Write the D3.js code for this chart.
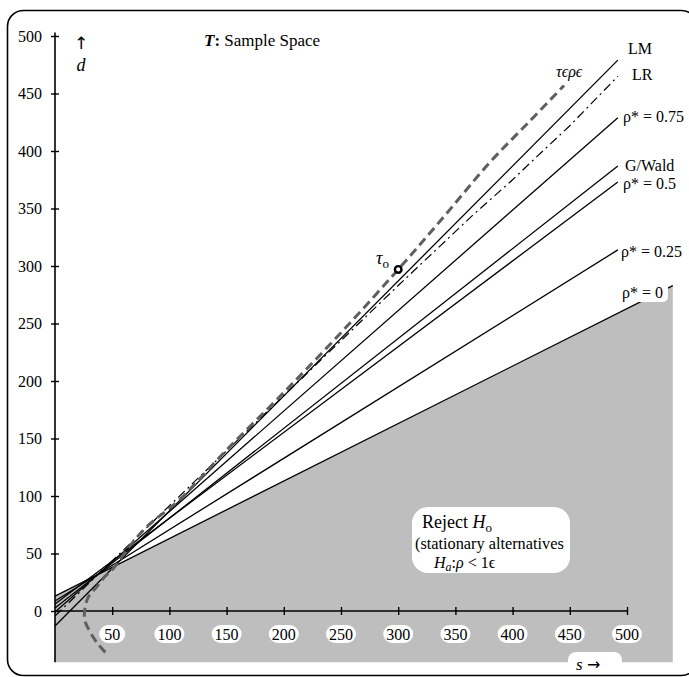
<!DOCTYPE html>
<html>
<head>
<meta charset="utf-8">
<script src="https://cdn.jsdelivr.net/npm/d3@7/dist/d3.min.js"></script>
<style>
  body { margin: 0; background: #fff; }
  svg text { font-family: "Liberation Serif", "Times New Roman", serif; fill: #000; }
  svg text.arrow { font-family: "DejaVu Sans", sans-serif; }
</style>
</head>
<body>
<svg id="chart" width="689" height="677"></svg>
<script>
// tick values
const sTicks = [50, 100, 150, 200, 250, 300, 350, 400, 450, 500]
const dTicks = [0, 50, 100, 150, 200, 250, 300, 350, 400, 450, 500]

// critical lines (s, d)
const lmLine = [[0, -13], [492, 479]]
const lrLine = [[0, -4.3], [300, 283], [365, 344], [400, 375], [420, 394], [450, 422], [492, 465]]
const rho75Line = [[0, -0.9], [492, 429]]
const gWaldLine = [[0, 2.6], [492, 387]]
const rho50Line = [[0, 6.1], [492, 373]]
const rho25Line = [[0, 8.7], [492, 314]]
const rho0Line = [[0, 13], [540, 283]]

// observed test statistic path and point
const taurhoPath = [[44, -36], [37, -28], [30.6, -18], [26, -8], [26, 1], [29, 12], [36.5, 21], [43.7, 30], [51, 37], [65, 56], [80, 73], [109, 97], [150, 140], [200, 190], [250, 242], [300, 297], [340, 343], [380, 390], [415, 426], [445, 457]]
const tauPoint = [300, 297]

const lineLabels = [
  { name: "LM", x: 628, y: 54 },
  { name: "LR", x: 632, y: 80 },
  { name: "ρ* = 0.75", x: 623, y: 122 },
  { name: "G/Wald", x: 625, y: 171 },
  { name: "ρ* = 0.5", x: 623, y: 189 },
  { name: "ρ* = 0.25", x: 621, y: 257 }
]

const svg = d3.select("#chart")

const x = d3.scaleLinear().domain([0, 500]).range([55, 627])
const y = d3.scaleLinear().domain([0, 500]).range([611, 36])

const line = d3.line().x(d => x(d[0])).y(d => y(d[1]))

// outer frame
svg.append("rect")
  .attr("x", 7.5).attr("y", 10.5)
  .attr("width", 690).attr("height", 665)
  .attr("rx", 16)
  .attr("fill", "none")
  .attr("stroke", "#000")
  .attr("stroke-width", 1.6)

// rejection region (below rho* = 0)
const yBottom = -44.5
const region = [[0, yBottom], rho0Line[0], rho0Line[1], [rho0Line[1][0], yBottom]]
svg.append("path")
  .attr("d", line(region) + "Z")
  .attr("fill", "#bebebe")

// axes
svg.append("line")
  .attr("x1", x(0)).attr("x2", x(0))
  .attr("y1", y(503)).attr("y2", y(yBottom))
  .attr("stroke", "#000").attr("stroke-width", 1.6)

svg.append("line")
  .attr("x1", x(0)).attr("x2", x(500))
  .attr("y1", y(0)).attr("y2", y(0))
  .attr("stroke", "#000").attr("stroke-width", 1.6)

const yAxis = svg.append("g")
  .attr("transform", "translate(" + x(0) + ",0)")
  .call(d3.axisLeft(y).tickValues(dTicks).tickSize(4).tickPadding(9))
yAxis.select(".domain").remove()
yAxis.selectAll(".tick line").attr("x1", -4).attr("x2", 4).attr("stroke-width", 1.4)
yAxis.selectAll(".tick text")
  .style("font-family", "Liberation Serif")
  .style("font-size", "16px")

const xAxis = svg.append("g")
  .attr("transform", "translate(0," + y(0) + ")")
  .call(d3.axisBottom(x).tickValues(sTicks).tickSize(4).tickFormat(""))
xAxis.select(".domain").remove()
xAxis.selectAll(".tick line").attr("y1", -4).attr("y2", 4).attr("stroke-width", 1.4)

// tick labels on white pills
const pills = svg.append("g").selectAll("g")
  .data(sTicks)
  .enter()
  .append("g")
  .attr("transform", d => "translate(" + x(d) + "," + (y(0) + 23) + ")")
pills.append("rect")
  .attr("x", d => d < 100 ? -13 : -15)
  .attr("y", -9)
  .attr("width", d => d < 100 ? 26 : 30)
  .attr("height", 18)
  .attr("rx", 9)
  .attr("fill", "#fff")
pills.append("text")
  .attr("text-anchor", "middle")
  .attr("y", 5.5)
  .style("font-size", "16px")
  .text(d => d)

// critical value lines
const solidLines = [lmLine, rho75Line, gWaldLine, rho50Line, rho25Line, rho0Line]
svg.append("g").selectAll("path")
  .data(solidLines)
  .enter()
  .append("path")
  .attr("d", line)
  .attr("fill", "none")
  .attr("stroke", "#000")
  .attr("stroke-width", 1.3)

svg.append("path")
  .attr("d", line(lrLine))
  .attr("fill", "none")
  .attr("stroke", "#000")
  .attr("stroke-width", 1.2)
  .attr("stroke-dasharray", "9,4,2,4")

// test statistic path
svg.append("path")
  .attr("d", d3.line().curve(d3.curveCatmullRom).x(d => x(d[0])).y(d => y(d[1]))(taurhoPath))
  .attr("fill", "none")
  .attr("stroke", "#5f5f5f")
  .attr("stroke-width", 3)
  .attr("stroke-dasharray", "9,5")

svg.append("circle")
  .attr("cx", x(tauPoint[0])).attr("cy", y(tauPoint[1]))
  .attr("r", 3.3)
  .attr("fill", "#fff")
  .attr("stroke", "#000")
  .attr("stroke-width", 2.4)

// line labels
svg.append("g").selectAll("text")
  .data(lineLabels)
  .enter()
  .append("text")
  .attr("x", d => d.x)
  .attr("y", d => d.y)
  .style("font-size", "16px")
  .text(d => d.name)

// rho* = 0 label on white box
svg.append("rect")
  .attr("x", 619).attr("y", 283)
  .attr("width", 49).attr("height", 19)
  .attr("rx", 5)
  .attr("fill", "#fff")
svg.append("text")
  .attr("x", 622).attr("y", 298)
  .style("font-size", "16px")
  .text("ρ* = 0")

// tau labels
svg.append("text")
  .attr("x", 556).attr("y", 77)
  .style("font-size", "16px")
  .style("font-style", "italic")
  .text("τϵρϵ")

const tauLab = svg.append("text").attr("x", 376).attr("y", 264).style("font-size", "18px")
tauLab.append("tspan").style("font-style", "italic").text("τ")
tauLab.append("tspan").attr("dy", 4).style("font-size", "13px").text("o")

// title and axis names
const title = svg.append("text").attr("x", 204).attr("y", 46).style("font-size", "17px")
title.append("tspan").style("font-weight", "bold").style("font-style", "italic").text("T")
title.append("tspan").style("font-weight", "bold").text(":")
title.append("tspan").text(" Sample Space")

svg.append("text")
  .attr("class", "arrow")
  .attr("x", 81).attr("y", 49)
  .attr("text-anchor", "middle")
  .style("font-size", "17px")
  .text("\u2191\uFE0E")
svg.append("text")
  .attr("x", 81).attr("y", 71)
  .attr("text-anchor", "middle")
  .style("font-size", "18px")
  .style("font-style", "italic")
  .text("d")

svg.append("rect")
  .attr("x", 568).attr("y", 652)
  .attr("width", 54).attr("height", 22)
  .attr("rx", 8)
  .attr("fill", "#fff")
const sLab = svg.append("text").attr("x", 576).attr("y", 670).style("font-size", "17px")
sLab.append("tspan").style("font-style", "italic").text("s ")
sLab.append("tspan").attr("class", "arrow").style("font-family", "DejaVu Sans").style("font-size", "16px").text("\u2192\uFE0E")

// reject box
svg.append("rect")
  .attr("x", 412).attr("y", 507)
  .attr("width", 158).attr("height", 66)
  .attr("rx", 16)
  .attr("fill", "#fff")
const rej = svg.append("text").attr("x", 422).attr("y", 528).style("font-size", "18px")
rej.append("tspan").text("Reject ")
rej.append("tspan").style("font-style", "italic").text("H")
rej.append("tspan").attr("dy", 4).style("font-size", "13px").text("o")
svg.append("text")
  .attr("x", 415).attr("y", 549)
  .style("font-size", "16.3px")
  .text("(stationary alternatives")
const ha = svg.append("text").attr("x", 434).attr("y", 568).style("font-size", "16px")
ha.append("tspan").style("font-style", "italic").text("H")
ha.append("tspan").attr("dy", 3).style("font-size", "12px").style("font-style", "italic").text("a")
ha.append("tspan").attr("dy", -3).text(":")
ha.append("tspan").style("font-style", "italic").text("ρ")
ha.append("tspan").text(" < 1ϵ")
</script>
</body>
</html>
